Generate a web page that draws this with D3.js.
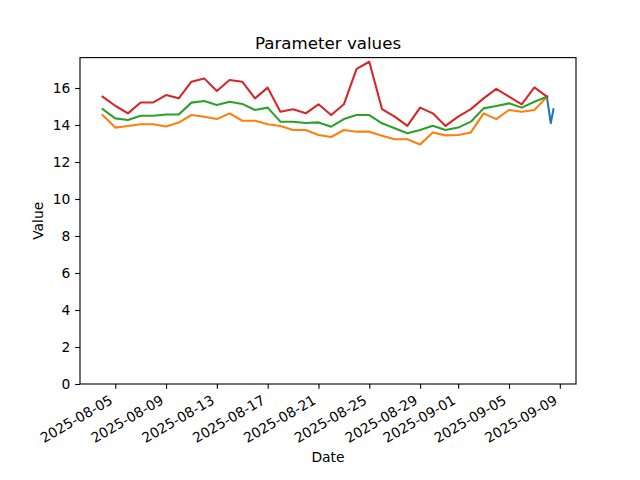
<!DOCTYPE html>
<html>
<head>
<meta charset="utf-8">
<script src="https://cdn.jsdelivr.net/npm/d3@7"></script>
<style>
  html, body { margin: 0; padding: 0; background: #fff; }
  svg { display: block; font-family: "DejaVu Sans", sans-serif; }
</style>
</head>
<body>
<svg id="chart" width="640" height="480"></svg>
<script>
// ---- data ----
const dailyDates = [
  "2025-08-04","2025-08-05","2025-08-06","2025-08-07","2025-08-08","2025-08-09",
  "2025-08-10","2025-08-11","2025-08-12","2025-08-13","2025-08-14","2025-08-15",
  "2025-08-16","2025-08-17","2025-08-18","2025-08-19","2025-08-20","2025-08-21",
  "2025-08-22","2025-08-23","2025-08-24","2025-08-25","2025-08-26","2025-08-27",
  "2025-08-28","2025-08-29","2025-08-30","2025-08-31","2025-09-01","2025-09-02",
  "2025-09-03","2025-09-04","2025-09-05","2025-09-06","2025-09-07","2025-09-08"
];
const orangeValues = [
  14.54, 13.86, 13.95, 14.04, 14.04, 13.92, 14.13, 14.54, 14.45, 14.32, 14.63, 14.23,
  14.23, 14.04, 13.95, 13.73, 13.73, 13.46, 13.35, 13.73, 13.64, 13.64, 13.42, 13.23,
  13.23, 12.95, 13.60, 13.44, 13.46, 13.60, 14.63, 14.32, 14.81, 14.72, 14.81, 15.53
];
const greenValues = [
  14.86, 14.36, 14.27, 14.50, 14.50, 14.57, 14.57, 15.21, 15.30, 15.08, 15.26, 15.14,
  14.81, 14.94, 14.18, 14.18, 14.11, 14.14, 13.91, 14.32, 14.54, 14.54, 14.09, 13.82,
  13.55, 13.73, 13.96, 13.73, 13.86, 14.18, 14.90, 15.03, 15.17, 14.94, 15.26, 15.53
];
const redValues = [
  15.53, 15.04, 14.63, 15.22, 15.22, 15.62, 15.44, 16.34, 16.52, 15.84, 16.43, 16.34,
  15.44, 16.02, 14.72, 14.85, 14.63, 15.12, 14.54, 15.12, 17.03, 17.42, 14.86, 14.45,
  13.95, 14.94, 14.63, 13.95, 14.45, 14.86, 15.44, 15.95, 15.53, 15.12, 16.03, 15.53
];
const blueTimes = ["2025-09-08T00:00", "2025-09-08T07:00", "2025-09-08T12:00"];
const blueValues = [15.45, 14.10, 14.85];

const xTickLabels = [
  "2025-08-05","2025-08-09","2025-08-13","2025-08-17","2025-08-21",
  "2025-08-25","2025-08-29","2025-09-01","2025-09-05","2025-09-09"
];
const yTickValues = [0, 2, 4, 6, 8, 10, 12, 14, 16];

const titleText = "Parameter values";
const xLabelText = "Date";
const yLabelText = "Value";

// ---- layout ----
const W = 640, H = 480;
const mLeft = 80, mRight = 576, mTop = 57.6, mBottom = 384;
const colors = { blue: "#1f77b4", orange: "#ff7f0e", green: "#2ca02c", red: "#d62728" };

const parseDay = d3.utcParse("%Y-%m-%d");
const parseTime = d3.utcParse("%Y-%m-%dT%H:%M");

const daily = dailyDates.map(parseDay);
const blueX = blueTimes.map(parseTime);

const series = [
  { color: colors.blue,   pts: blueX.map((d, i) => [d, blueValues[i]]) },
  { color: colors.orange, pts: daily.map((d, i) => [d, orangeValues[i]]) },
  { color: colors.green,  pts: daily.map((d, i) => [d, greenValues[i]]) },
  { color: colors.red,    pts: daily.map((d, i) => [d, redValues[i]]) }
];

const allX = series.flatMap(s => s.pts.map(p => +p[0]));
const allY = series.flatMap(s => s.pts.map(p => p[1]));
const xMin = d3.min(allX), xMax = d3.max(allX);
const xm = (xMax - xMin) * 0.05;
const yMin = d3.min(allY), yMax = d3.max(allY);

const x = d3.scaleUtc().domain([new Date(xMin - xm), new Date(xMax + xm)]).range([mLeft, mRight]);
const y = d3.scaleLinear().domain([0, yMax + (yMax - yMin) * 0.05]).range([mBottom, mTop]);

const svg = d3.select("#chart");
svg.append("rect").attr("width", W).attr("height", H).attr("fill", "#fff");

svg.append("clipPath").attr("id", "clip")
  .append("rect").attr("x", mLeft).attr("y", mTop).attr("width", mRight - mLeft).attr("height", mBottom - mTop);

const line = d3.line().x(d => x(d[0])).y(d => y(d[1]));
const g = svg.append("g").attr("clip-path", "url(#clip)");
series.forEach(s => {
  g.append("path").datum(s.pts).attr("d", line)
    .attr("fill", "none").attr("stroke", s.color).attr("stroke-width", 2.08)
    .attr("stroke-linejoin", "round").attr("stroke-linecap", "square");
});

// axes
const fs = 13.89;
const xAxis = d3.axisBottom(x)
  .tickValues(xTickLabels.map(parseDay))
  .tickFormat(d3.utcFormat("%Y-%m-%d"))
  .tickSize(4.86).tickPadding(4.86);
const gx = svg.append("g").attr("transform", `translate(0,${mBottom})`).call(xAxis);
gx.select(".domain").remove();
gx.selectAll(".tick line").attr("stroke", "#000").attr("stroke-width", 1.11);
gx.selectAll(".tick text")
  .attr("font-size", fs).attr("fill", "#000")
  .attr("font-family", "DejaVu Sans")
  .attr("text-anchor", "end")
  .attr("y", null).attr("dy", null)
  .attr("transform", "translate(-2,19) rotate(-30)");

const yAxis = d3.axisLeft(y).tickValues(yTickValues).tickFormat(d3.format("d"))
  .tickSize(4.86).tickPadding(4.86);
const gy = svg.append("g").attr("transform", `translate(${mLeft},0)`).call(yAxis);
gy.select(".domain").remove();
gy.selectAll(".tick line").attr("stroke", "#000").attr("stroke-width", 1.11);
gy.selectAll(".tick text").attr("font-size", fs).attr("fill", "#000").attr("font-family", "DejaVu Sans");

// frame
svg.append("rect").attr("x", mLeft).attr("y", mTop).attr("width", mRight - mLeft).attr("height", mBottom - mTop)
  .attr("fill", "none").attr("stroke", "#000").attr("stroke-width", 1.11);

// labels
svg.append("text").attr("x", (mLeft + mRight) / 2).attr("y", 49)
  .attr("text-anchor", "middle").attr("font-size", 16.67).text(titleText);
svg.append("text").attr("x", (mLeft + mRight) / 2).attr("y", 462)
  .attr("text-anchor", "middle").attr("font-size", fs).text(xLabelText);
svg.append("text").attr("transform", `translate(43,${(mTop + mBottom) / 2}) rotate(-90)`)
  .attr("text-anchor", "middle").attr("font-size", fs).text(yLabelText);
</script>
</body>
</html>
